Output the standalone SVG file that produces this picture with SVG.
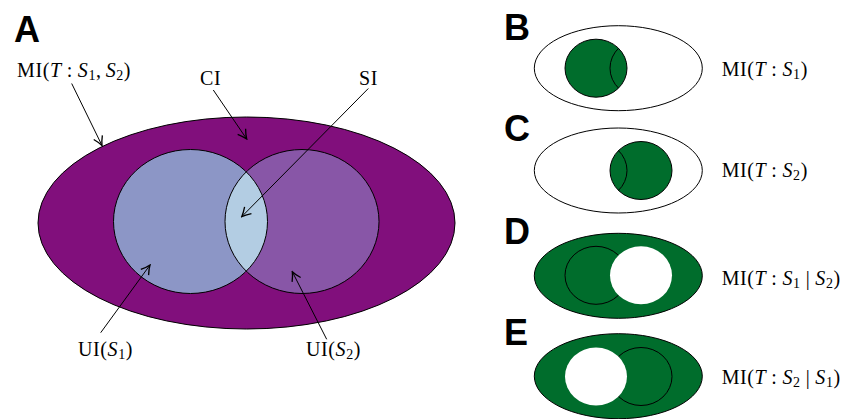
<svg xmlns="http://www.w3.org/2000/svg" width="851" height="419" viewBox="0 0 851 419">
<style>
.lbl{font-family:"Liberation Sans",Arial,sans-serif;font-weight:bold;font-size:36px;fill:#000}
.m{font-family:"Liberation Serif","Times New Roman",serif;font-size:20px;fill:#000;letter-spacing:0.6px}
.i{font-style:italic}
.sub{font-size:14px}
.ln{stroke:#000;stroke-width:1;fill:none}
.edge{stroke:#000;stroke-width:1}
</style>
<defs>
<marker id="arr" markerUnits="userSpaceOnUse" markerWidth="12" markerHeight="12" viewBox="-9 -5 10 10" refX="0" refY="0" orient="auto">
<path d="M -7.5 -4 Q -3 -1 0 0 Q -3 1 -7.5 4" fill="none" stroke="#000" stroke-width="1.1"/>
</marker>
<clipPath id="cA"><ellipse cx="190.5" cy="221.5" rx="77" ry="72"/></clipPath>
<clipPath id="cB"><ellipse cx="596" cy="68.2" rx="31" ry="29"/></clipPath>
<clipPath id="cC"><ellipse cx="641" cy="170.5" rx="31" ry="29"/></clipPath>
</defs>

<g id="panelA">
<text class="lbl" x="14" y="41.7">A</text>
<g id="mi-all"><ellipse cx="246.5" cy="223" rx="208.5" ry="106" fill="#810f7c" class="edge"/></g>
<g id="ui1"><ellipse cx="190.5" cy="221.5" rx="77" ry="72" fill="#8c96c6"/></g>
<g id="ui2"><ellipse cx="302" cy="221.5" rx="77" ry="72" fill="#8856a7"/></g>
<g id="si"><ellipse cx="302" cy="221.5" rx="77" ry="72" fill="#b3cde3" clip-path="url(#cA)"/></g>
<ellipse cx="190.5" cy="221.5" rx="77" ry="72" class="ln"/>
<ellipse cx="302" cy="221.5" rx="77" ry="72" class="ln"/>
<text class="m" x="17" y="77">MI(<tspan class="i">T</tspan><tspan dx="5">:</tspan><tspan class="i" dx="5">S</tspan><tspan class="sub" dy="3">1</tspan><tspan dy="-3">,</tspan><tspan class="i" dx="4">S</tspan><tspan class="sub" dy="3">2</tspan><tspan dy="-3">)</tspan></text>
<text class="m" x="200" y="85">CI</text>
<text class="m" x="359" y="85">SI</text>
<text class="m" x="78" y="355.5">UI(<tspan class="i">S</tspan><tspan class="sub" dy="3">1</tspan><tspan dy="-3">)</tspan></text>
<text class="m" x="306" y="355.5">UI(<tspan class="i">S</tspan><tspan class="sub" dy="3">2</tspan><tspan dy="-3">)</tspan></text>
</g>

<g id="connectors" class="ln" marker-end="url(#arr)">
<line x1="71.7" y1="83.5" x2="102" y2="145.5"/>
<line x1="213.3" y1="90" x2="246.7" y2="139"/>
<line x1="368.3" y1="88.5" x2="241.7" y2="216.7"/>
<line x1="100.7" y1="332.7" x2="150" y2="265"/>
<line x1="326.7" y1="339.3" x2="292.3" y2="271.7"/>
</g>

<g id="panelB">
<text class="lbl" x="504" y="40">B</text>
<ellipse cx="618.3" cy="68.2" rx="84" ry="42.5" fill="#fff" class="edge"/>
<ellipse cx="596" cy="68.2" rx="31" ry="29" fill="#006d2c" class="edge"/>
<ellipse cx="641" cy="68.2" rx="31" ry="29" class="ln" clip-path="url(#cB)"/>
<text class="m" x="721.7" y="75.5">MI(<tspan class="i">T</tspan><tspan dx="5">:</tspan><tspan class="i" dx="5">S</tspan><tspan class="sub" dy="3">1</tspan><tspan dy="-3">)</tspan></text>
</g>

<g id="panelC">
<text class="lbl" x="504" y="141">C</text>
<ellipse cx="618.3" cy="170.5" rx="84" ry="42.5" fill="#fff" class="edge"/>
<ellipse cx="641" cy="170.5" rx="31" ry="29" fill="#006d2c" class="edge"/>
<ellipse cx="596" cy="170.5" rx="31" ry="29" class="ln" clip-path="url(#cC)"/>
<text class="m" x="721.7" y="177">MI(<tspan class="i">T</tspan><tspan dx="5">:</tspan><tspan class="i" dx="5">S</tspan><tspan class="sub" dy="3">2</tspan><tspan dy="-3">)</tspan></text>
</g>

<g id="panelD">
<text class="lbl" x="504" y="244">D</text>
<ellipse cx="618.3" cy="275.8" rx="84" ry="42.5" fill="#006d2c" class="edge"/>
<ellipse cx="596" cy="275.3" rx="31" ry="29" class="ln"/>
<ellipse cx="641" cy="275.3" rx="31" ry="29" fill="#fff"/>
<text class="m" x="721.7" y="284.5">MI(<tspan class="i">T</tspan><tspan dx="5">:</tspan><tspan class="i" dx="5">S</tspan><tspan class="sub" dy="3">1</tspan><tspan dy="-3" dx="5">|</tspan><tspan class="i" dx="5">S</tspan><tspan class="sub" dy="3">2</tspan><tspan dy="-3">)</tspan></text>
</g>

<g id="panelE">
<text class="lbl" x="504" y="345">E</text>
<ellipse cx="618.3" cy="376.2" rx="84" ry="42.5" fill="#006d2c" class="edge"/>
<ellipse cx="641" cy="376.5" rx="31" ry="29" class="ln"/>
<ellipse cx="596" cy="376.5" rx="31" ry="29" fill="#fff"/>
<text class="m" x="721.7" y="384">MI(<tspan class="i">T</tspan><tspan dx="5">:</tspan><tspan class="i" dx="5">S</tspan><tspan class="sub" dy="3">2</tspan><tspan dy="-3" dx="5">|</tspan><tspan class="i" dx="5">S</tspan><tspan class="sub" dy="3">1</tspan><tspan dy="-3">)</tspan></text>
</g>
</svg>
